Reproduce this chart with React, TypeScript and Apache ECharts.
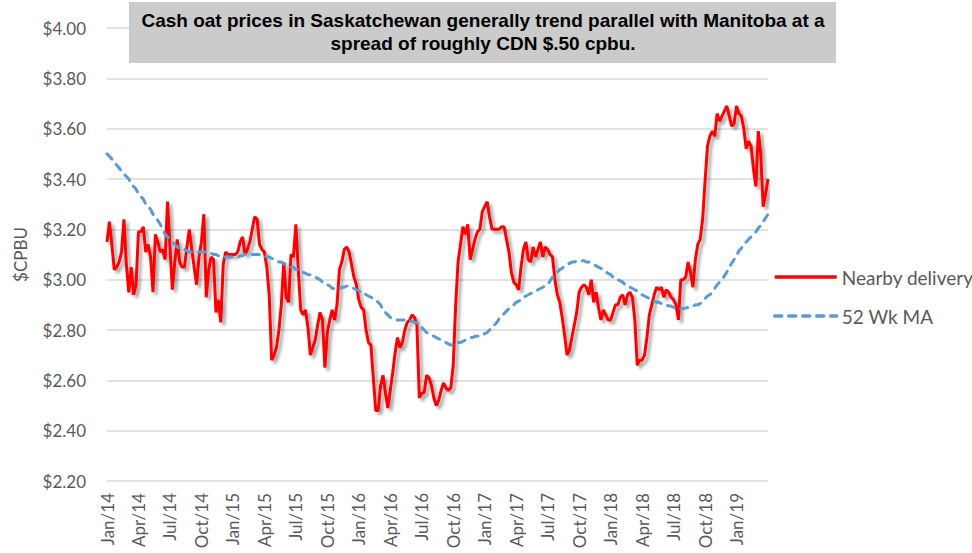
import React, { useEffect, useRef } from "react";
import * as echarts from "echarts";

// Quarterly tick labels (every 13 weeks)
const tickLabels = [
  "Jan/14", "Apr/14", "Jul/14", "Oct/14", "Jan/15", "Apr/15", "Jul/15", "Oct/15",
  "Jan/16", "Apr/16", "Jul/16", "Oct/16", "Jan/17", "Apr/17", "Jul/17", "Oct/17",
  "Jan/18", "Apr/18", "Jul/18", "Oct/18", "Jan/19",
];

const seriesNames = ["Nearby delivery", "52 Wk MA"];

// Weekly cash oat price, nearby delivery ($/bu), from first week of Jan 2014
const nearby = [
  3.15, 3.23, 3.14, 3.04, 3.05, 3.07, 3.11, 3.24, 3.06, 2.95, 3.05, 2.94, 2.98,
  3.19, 3.19, 3.21, 3.11, 3.14, 3.09, 2.95, 3.18, 3.15, 3.11, 3.12, 3.08, 3.31,
  3.13, 2.96, 3.07, 3.16, 3.07, 3.05, 3.05, 3.13, 3.20, 3.12, 3.05, 2.98, 3.09,
  3.15, 3.26, 2.93, 3.04, 3.09, 3.08, 2.87, 2.92, 2.83, 3.06, 3.11, 3.10, 3.10,
  3.10, 3.10, 3.11, 3.15, 3.17, 3.10, 3.12, 3.15, 3.20, 3.25, 3.24, 3.14, 3.12,
  3.11, 3.05, 2.94, 2.68, 2.70, 2.73, 2.80, 2.90, 3.07, 2.93, 2.91, 3.10, 3.09,
  3.22, 3.04, 2.88, 2.86, 2.88, 2.81, 2.70, 2.73, 2.76, 2.82, 2.87, 2.84, 2.65,
  2.79, 2.84, 2.88, 2.84, 2.90, 3.04, 3.07, 3.12, 3.13, 3.11, 3.06, 3.01, 2.98,
  2.92, 2.89, 2.88, 2.80, 2.75, 2.74, 2.61, 2.48, 2.48, 2.58, 2.62, 2.55, 2.49,
  2.56, 2.63, 2.71, 2.77, 2.73, 2.75, 2.80, 2.83, 2.84, 2.86, 2.85, 2.82, 2.53,
  2.55, 2.55, 2.62, 2.61, 2.58, 2.53, 2.50, 2.52, 2.56, 2.59, 2.57, 2.56, 2.57,
  2.66, 2.90, 3.07, 3.14, 3.21, 3.18, 3.22, 3.08, 3.12, 3.16, 3.19, 3.20, 3.27,
  3.29, 3.31, 3.25, 3.20, 3.20, 3.20, 3.20, 3.21, 3.21, 3.16, 3.11, 3.03, 2.99,
  2.98, 2.96, 3.05, 3.12, 3.15, 3.08, 3.07, 3.13, 3.09, 3.12, 3.15, 3.09, 3.13,
  3.12, 3.10, 3.09, 3.00, 2.94, 2.91, 2.85, 2.78, 2.70, 2.72, 2.77, 2.82, 2.87,
  2.95, 2.97, 2.98, 2.97, 2.94, 3.00, 2.91, 2.95, 2.89, 2.84, 2.88, 2.86, 2.84,
  2.84, 2.87, 2.90, 2.90, 2.93, 2.94, 2.90, 2.94, 2.95, 2.93, 2.84, 2.66, 2.68,
  2.68, 2.70, 2.77, 2.86, 2.90, 2.94, 2.97, 2.96, 2.97, 2.93, 2.96, 2.95, 2.93,
  2.92, 2.90, 2.84, 3.00, 3.00, 3.01, 3.07, 3.03, 2.97, 3.08, 3.14, 3.16, 3.24,
  3.39, 3.53, 3.57, 3.59, 3.57, 3.66, 3.63, 3.65, 3.67, 3.69, 3.65, 3.61, 3.62,
  3.69, 3.66, 3.65, 3.60, 3.52, 3.55, 3.53, 3.44, 3.37, 3.59, 3.50, 3.29, 3.34,
  3.40,
];

// 52-week moving average ($/bu)
const movingAvg = [
  3.50, 3.49, 3.48, 3.47, 3.455, 3.445, 3.43, 3.42, 3.41, 3.40, 3.38, 3.37, 3.36,
  3.34, 3.33, 3.32, 3.30, 3.29, 3.28, 3.26, 3.25, 3.235, 3.22, 3.20, 3.18, 3.17,
  3.16, 3.15, 3.14, 3.13, 3.125, 3.12, 3.12, 3.115, 3.11, 3.11, 3.11, 3.11, 3.11,
  3.11, 3.11, 3.11, 3.105, 3.105, 3.10, 3.10, 3.095, 3.09, 3.09, 3.09, 3.09, 3.09,
  3.09, 3.09, 3.09, 3.095, 3.095, 3.10, 3.10, 3.10, 3.10, 3.10, 3.10, 3.10, 3.10,
  3.095, 3.09, 3.09, 3.085, 3.08, 3.075, 3.07, 3.07, 3.065, 3.06, 3.055, 3.05, 3.05,
  3.04, 3.04, 3.035, 3.03, 3.025, 3.02, 3.02, 3.015, 3.01, 3.005, 3.00, 2.99, 2.985,
  2.98, 2.975, 2.965, 2.965, 2.965, 2.965, 2.97, 2.97, 2.975, 2.975, 2.97, 2.965, 2.96,
  2.955, 2.95, 2.95, 2.94, 2.935, 2.93, 2.925, 2.92, 2.91, 2.90, 2.88, 2.87, 2.86,
  2.85, 2.845, 2.84, 2.84, 2.84, 2.84, 2.84, 2.84, 2.835, 2.835, 2.83, 2.83, 2.82,
  2.81, 2.80, 2.79, 2.785, 2.78, 2.775, 2.77, 2.765, 2.76, 2.755, 2.75, 2.745, 2.74,
  2.74, 2.745, 2.75, 2.75, 2.755, 2.76, 2.765, 2.77, 2.77, 2.775, 2.775, 2.78, 2.78,
  2.785, 2.79, 2.80, 2.81, 2.82, 2.83, 2.845, 2.855, 2.865, 2.875, 2.885, 2.895, 2.90,
  2.91, 2.915, 2.92, 2.93, 2.935, 2.94, 2.945, 2.95, 2.955, 2.96, 2.965, 2.97, 2.975,
  2.98, 2.995, 3.01, 3.02, 3.03, 3.04, 3.045, 3.055, 3.06, 3.065, 3.07, 3.07, 3.075,
  3.075, 3.075, 3.075, 3.07, 3.07, 3.065, 3.06, 3.055, 3.05, 3.045, 3.04, 3.03, 3.025,
  3.02, 3.01, 3.005, 3.00, 2.995, 2.99, 2.98, 2.975, 2.97, 2.965, 2.96, 2.955, 2.945,
  2.94, 2.935, 2.93, 2.925, 2.92, 2.915, 2.91, 2.91, 2.905, 2.90, 2.90, 2.895, 2.895,
  2.89, 2.89, 2.885, 2.885, 2.885, 2.887, 2.89, 2.89, 2.895, 2.90, 2.90, 2.905, 2.915,
  2.925, 2.935, 2.94, 2.95, 2.965, 2.98, 2.99, 3.00, 3.015, 3.03, 3.05, 3.065, 3.08,
  3.095, 3.115, 3.125, 3.14, 3.15, 3.16, 3.17, 3.18, 3.19, 3.205, 3.215, 3.23, 3.245,
  3.26,
];

const titleLines = [
  "Cash oat prices in Saskatchewan generally trend parallel with Manitoba at a",
  "spread of roughly CDN $.50 cpbu.",
];

const WEEKS_PER_TICK = 13;

export default function App() {
  const ref = useRef<HTMLDivElement>(null);

  useEffect(() => {
    if (!ref.current) return;
    const chart = echarts.init(ref.current, null, { renderer: "svg" });
    const grey = "#595959";
    const axisFont = "Lato";
    const noShadow = { shadowBlur: 0, shadowOffsetX: 0, shadowOffsetY: 0, shadowColor: "rgba(0,0,0,0)" };

    const option: any = {
      animation: false,
      backgroundColor: "#ffffff",
      grid: { left: 107, right: 204, top: 28, bottom: 72, containLabel: false },
      xAxis: {
        type: "value",
        min: 0,
        max: nearby.length - 1,
        interval: WEEKS_PER_TICK,
        axisLine: { show: false },
        axisTick: { show: false },
        splitLine: { show: false },
        axisLabel: {
          rotate: 90,
          margin: 12,
          fontFamily: axisFont,
          fontSize: 17,
          color: grey,
          formatter: (v: number) => tickLabels[Math.round(v / WEEKS_PER_TICK)] ?? "",
        },
      },
      yAxis: {
        type: "value",
        min: 2.2,
        max: 4.0,
        interval: 0.2,
        name: "$CPBU",
        nameLocation: "middle",
        nameGap: 78,
        nameRotate: 90,
        nameTextStyle: { fontFamily: axisFont, fontSize: 17, color: grey },
        axisLine: { show: false },
        axisTick: { show: false },
        axisLabel: {
          margin: 21,
          fontFamily: axisFont,
          fontSize: 17,
          color: grey,
          formatter: (v: number) => "$" + v.toFixed(2),
        },
        splitLine: { lineStyle: { color: "#d9d9d9", width: 1.5 } },
      },
      legend: {
        orient: "vertical",
        left: 768,
        top: 261,
        itemWidth: 62,
        itemHeight: 14,
        itemGap: 17,
        lineStyle: { width: 3.5 },
        textStyle: { fontFamily: axisFont, fontSize: 19, color: grey, lineHeight: 22 },
        data: [
          {
            name: seriesNames[0],
            itemStyle: { opacity: 0 },
            lineStyle: { ...noShadow, width: 3.5 },
          },
          { name: seriesNames[1], itemStyle: { opacity: 0 }, lineStyle: { width: 3.5 } },
        ],
      },
      series: [
        {
          name: seriesNames[0],
          type: "line",
          symbol: "none",
          data: nearby.map((v, i) => [i, v]),
          itemStyle: { color: "#ff0000" },
          lineStyle: {
            color: "#ff0000",
            width: 3,
            shadowColor: "rgba(0,0,0,0.35)",
            shadowBlur: 3,
            shadowOffsetX: 3,
            shadowOffsetY: 3,
          },
        },
        {
          name: seriesNames[1],
          type: "line",
          symbol: "none",
          data: movingAvg.map((v, i) => [i, v]),
          itemStyle: { color: "#5b9bd5" },
          lineStyle: { color: "#5b9bd5", width: 3, type: [7, 7], cap: "round" },
        },
      ],
      graphic: [
        {
          type: "rect",
          z: 100,
          shape: { x: 129, y: 2, width: 707, height: 61 },
          style: { fill: "#cbcbcb" },
        },
        {
          type: "text",
          z: 101,
          x: 483,
          y: 32,
          style: {
            text: titleLines.join("\n"),
            font: 'bold 19px "Liberation Sans", Arial, sans-serif',
            fill: "#000000",
            textAlign: "center",
            textVerticalAlign: "middle",
            lineHeight: 23,
          },
        },
      ],
    };

    chart.setOption(option);
    return () => chart.dispose();
  }, []);

  return (
    <div
      ref={ref}
      style={{ position: "absolute", left: 0, top: 0, width: 972, height: 553 }}
    />
  );
}
